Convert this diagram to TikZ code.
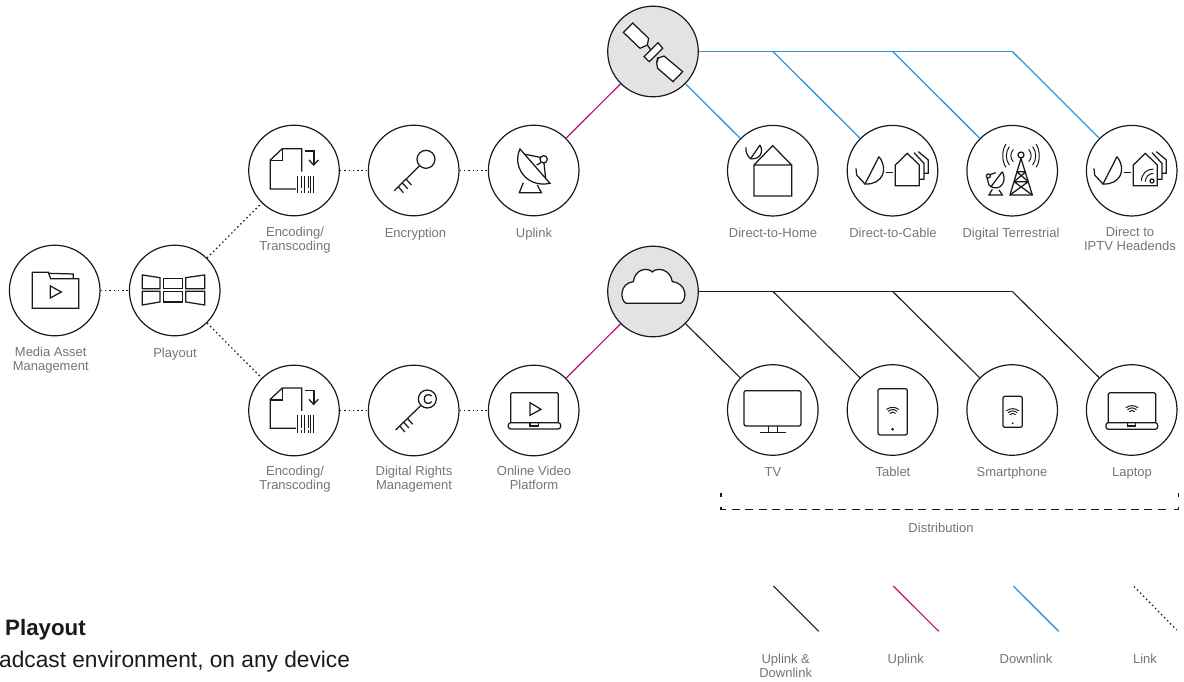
\documentclass[tikz,border=0pt]{standalone}
\usepackage{fontspec}
\setmainfont{Liberation Sans}
\definecolor{pinkline}{HTML}{B8107F}
\definecolor{blueline}{HTML}{2F95DC}
\definecolor{hubgray}{HTML}{E3E3E3}
\definecolor{lblgray}{HTML}{757575}
\definecolor{inkc}{HTML}{1A1A1A}
\tikzset{
  stage/.style={circle,draw=inkc,line width=1.2pt,fill=white,minimum size=90.6pt,inner sep=0pt},
  hub/.style={stage,fill=hubgray},
  lbl/.style={anchor=north,align=center,text=lblgray,inner sep=0pt,font=\fontsize{13}{14}\selectfont,execute at begin node={\rule{0pt}{10pt}}},
  linkdot/.style={draw=inkc,line width=1.2pt,dash pattern=on 1.5pt off 2.8pt},
  bothline/.style={draw=inkc,line width=1.1pt},
  upline/.style={draw=pinkline,line width=1.2pt},
  downline/.style={draw=blueline,line width=1.3pt},
  zf/.style={x=.3333pt,y=-.3333pt,line width=1.25pt,inkc,line join=miter},
}
\newcommand\wifisym[2]{\begin{scope}[shift={(#1,#2)},line width=1pt,line cap=round]
  \draw (-18,-2) .. controls (-7,-10) and (7,-10) .. (18,-2);
  \draw (-13,4) .. controls (-5,-3) and (5,-3) .. (13,4);
  \draw (-8,10) .. controls (-3,5) and (3,5) .. (8,10);
\end{scope}}
\newcommand\encicon{%
  \draw (905,215) -- (905,146) -- (847,146) -- (811,180) -- (811,267) -- (888,267);
  \draw (847,146) -- (847,182) -- (811,182);
  \draw (915,153) -- (942,153) -- (942,194);
  \draw (927,180) -- (941,195) -- (955,180);
  \draw[line width=1pt] (893,228) -- (893,280) (905,228) -- (905,265) (905,272) -- (905,280)
    (914,228) -- (914,280) (925,228) -- (925,265) (925,272) -- (925,280) (932,228) -- (932,280) (941,228) -- (941,280);
}
\newcommand\dishhouse{%
  \draw (438,175) -- (440,195) -- (465,222);
  \draw (507,140) -- (465,222) .. controls (515,225) and (538,180) .. (507,140);
  \draw (527,188) -- (549,188);
  \draw (612,128) -- (642,160) -- (642,208) -- (630,208);
  \draw (625,125) -- (655,150) -- (655,190) -- (642,190);
  \draw[fill=white] (556,165) -- (592,130) -- (628,165) -- (628,227) -- (556,227) -- cycle;
}
\begin{document}
\begin{tikzpicture}[x=1pt,y=-1pt]
\useasboundingbox (0,0) rectangle (1184,682);
% stages
\node[stage] (mam) at (54.7,290.5) {};
\node[stage] (play) at (174.7,290.5) {};
\node[stage] (enca) at (294,170.5) {};
\node[stage] (cryp) at (413.7,170.5) {};
\node[stage] (upl) at (533.7,170.5) {};
\node[hub] (sat) at (653,51.5) {};
\node[stage] (dth) at (772.8,170.7) {};
\node[stage] (dtc) at (892.5,170.7) {};
\node[stage] (dte) at (1012.2,170.7) {};
\node[stage] (ipt) at (1131.7,170.7) {};
\node[stage] (encb) at (294,410.5) {};
\node[stage] (drm) at (413.7,410.5) {};
\node[stage] (ovp) at (533.7,410.5) {};
\node[hub] (cld) at (653,291.5) {};
\node[stage] (tv) at (772.8,410) {};
\node[stage] (tab) at (892.5,410) {};
\node[stage] (smp) at (1012.2,410) {};
\node[stage] (lap) at (1131.7,410) {};
% junctions
\coordinate (sj1) at (773,51.5); \coordinate (sj2) at (892.7,51.5); \coordinate (sj3) at (1012.4,51.5);
\coordinate (cj1) at (773,291.5); \coordinate (cj2) at (892.7,291.5); \coordinate (cj3) at (1012.4,291.5);
% connectors
\draw[linkdot] (mam) -- (play);
\draw[linkdot] (play) -- (enca);
\draw[linkdot] (play) -- (encb);
\draw[linkdot] (enca) -- (cryp);
\draw[linkdot] (cryp) -- (upl);
\draw[linkdot] (encb) -- (drm);
\draw[linkdot] (drm) -- (ovp);
\draw[upline] (upl) -- (sat);
\draw[upline] (ovp) -- (cld);
\draw[downline] (sat) -- (sj3);
\draw[downline] (sat) -- (dth);
\draw[downline] (sj1) -- (dtc);
\draw[downline] (sj2) -- (dte);
\draw[downline] (sj3) -- (ipt);
\draw[bothline] (cld) -- (cj3);
\draw[bothline] (cld) -- (tv);
\draw[bothline] (cj1) -- (tab);
\draw[bothline] (cj2) -- (smp);
\draw[bothline] (cj3) -- (lap);
% labels
\node[lbl] (lmam) at (50.7,347) {Media Asset\\Management};
\node[lbl] (lplay) at (175,347) {Playout};
\node[lbl] (lenca) at (295,227) {Encoding/\\Transcoding};
\node[lbl] (lcryp) at (415.5,227) {Encryption};
\node[lbl] (lupl) at (534,227) {Uplink};
\node[lbl] (ldth) at (773,227) {Direct-to-Home};
\node[lbl] (ldtc) at (893,227) {Direct-to-Cable};
\node[lbl] (ldte) at (1011,227) {Digital Terrestrial};
\node[lbl] (lipt) at (1130,227) {Direct to\\IPTV Headends};
\node[lbl] (lencb) at (295,466) {Encoding/\\Transcoding};
\node[lbl] (ldrm) at (414,466) {Digital Rights\\Management};
\node[lbl] (lovp) at (534,466) {Online Video\\Platform};
\node[lbl] (ltv) at (773,466) {TV};
\node[lbl] (ltab) at (893,466) {Tablet};
\node[lbl] (lsmp) at (1012,466) {Smartphone};
\node[lbl] (llap) at (1132,466) {Laptop};
\node[lbl] (ldis) at (941,522) {Distribution};
% bracket
\coordinate (bla) at (721,493); \coordinate (blb) at (721,496.5);
\coordinate (blc) at (721,506.5); \coordinate (bld) at (726,509.5);
\coordinate (bha) at (732,509.5); \coordinate (bhb) at (1170,509.5);
\coordinate (bra) at (1178.5,493); \coordinate (brb) at (1178.5,496.5);
\coordinate (brc) at (1178.5,506.5); \coordinate (brd) at (1173.5,509.5);
\draw[inkc,line width=1.1pt] (bla) -- (blb);
\draw[inkc,line width=1.1pt] (blc) |- (bld);
\draw[inkc,line width=1.1pt,dash pattern=on 8pt off 5.3pt] (bha) -- (bhb);
\draw[inkc,line width=1.1pt] (brc) |- (brd);
\draw[inkc,line width=1.1pt] (bra) -- (brb);
% legend
\coordinate (k1a) at (773.3,586); \coordinate (k1b) at (818.7,631.3);
\coordinate (k2a) at (893.3,586); \coordinate (k2b) at (938.7,631.3);
\coordinate (k3a) at (1013.3,586); \coordinate (k3b) at (1058.7,631.3);
\coordinate (k4a) at (1134,586.5); \coordinate (k4b) at (1176.7,630);
\draw[bothline] (k1a) -- (k1b);
\draw[upline] (k2a) -- (k2b);
\draw[downline] (k3a) -- (k3b);
\draw[linkdot] (k4a) -- (k4b);
\node[lbl] (lk1) at (785.7,653.5) {Uplink \&\\Downlink};
\node[lbl] (lk2) at (905.7,653.5) {Uplink};
\node[lbl] (lk3) at (1026,653.5) {Downlink};
\node[lbl] (lk4) at (1145,653.5) {Link};
% bottom text
\node[anchor=base west,inner sep=0pt,text=inkc,font=\fontsize{22.3}{24}\bfseries\selectfont] (tta) at (5,635) {Playout};
\node[anchor=base west,inner sep=0pt,text=inkc,font=\fontsize{22.7}{24}\selectfont] (ttb) at (-1,667) {adcast environment, on any device};
% icons, zoom 1
\begin{scope}[shift={(0,100)},zf]
  \draw (97,517) -- (145,517) -- (152,536) -- (236,536) -- (236,625) -- (97,625) -- cycle;
  \draw (145,520) -- (220,522) -- (220,536);
  \draw (151,558) -- (184,576) -- (151,594) -- cycle;
  \draw (427,525) -- (480,533) -- (480,566) -- (427,566) -- cycle;
  \draw (491,535) rectangle (548,566);
  \draw (557,533) -- (614,525) -- (614,566) -- (557,566) -- cycle;
  \draw (427,574) -- (480,574) -- (480,606) -- (427,615) -- cycle;
  \draw (491,574) rectangle (548,606);
  \draw (557,574) -- (614,574) -- (614,615) -- (557,606) -- cycle;
  \encicon
\end{scope}
\begin{scope}[shift={(0,339.3)},zf]
  \encicon
\end{scope}
% icons, zoom 2
\begin{scope}[shift={(340,0)},zf]
  \draw (258,478) circle (27);
  \draw (238,498) -- (163,572);
  \draw (175,560) -- (190,578) (187,549) -- (203,566) (199,538) -- (214,555);
  \draw (540,447) .. controls (515,500) and (560,565) .. (630,550) -- cycle;
  \draw (611,478) circle (11);
  \draw (556,463) -- (600,472) (590,495) -- (603,488) (612,489) -- (617,535);
  \draw (550,548) -- (538,578) -- (604,578) -- (592,555);
\end{scope}
% satellite
\begin{scope}[shift={(590,0)},zf]
  \draw (172,135) -- (182,150) (203,172) -- (200,190);
  \draw[fill=white] (128,69) -- (176,115) -- (172,135) -- (150,145) -- (100,97) -- cycle;
  \draw[fill=white] (204,128) -- (218,145) -- (178,185) -- (162,170) -- cycle;
  \draw[fill=white] (205,174) -- (222,168) -- (278,215) -- (249,245) -- (203,205) -- (200,190) -- cycle;
\end{scope}
% cloud
\begin{scope}[shift={(590,240)},zf]
  \draw[fill=white] (108,190) .. controls (90,180) and (88,130) .. (130,125)
    .. controls (135,85) and (175,82) .. (187,96) .. controls (200,82) and (240,85) .. (247,125)
    .. controls (292,130) and (292,180) .. (272,190) -- cycle;
\end{scope}
% zoom 3
\begin{scope}[shift={(710,110)},zf]
  \draw (132,165) -- (188,107) -- (245,165) -- (245,258) -- (132,258) -- cycle -- (245,165);
  \draw (108,112) .. controls (106,125) and (112,138) .. (122,146);
  \draw (150,105) -- (122,146) .. controls (150,150) and (162,125) .. (150,105);
  \dishhouse
\end{scope}
% zoom 4
\begin{scope}[shift={(950,110)},zf]
  \draw (213,135) circle (9);
  \draw (213,145) -- (180,255) -- (247,255) -- cycle;
  \draw (200,185) -- (228,185) (192,215) -- (235,215) (200,185) -- (235,215) (228,185) -- (192,215) (192,215) -- (247,255) (235,215) -- (180,255);
  \draw[line width=1pt] (190,118) .. controls (180,130) and (180,145) .. (190,155)
     (178,110) .. controls (166,125) and (166,150) .. (178,165)
     (168,102) .. controls (155,120) and (155,155) .. (168,172)
     (236,118) .. controls (246,130) and (246,145) .. (236,155)
     (248,110) .. controls (260,125) and (260,150) .. (248,165)
     (258,102) .. controls (271,120) and (271,155) .. (258,172);
\end{scope}
\begin{scope}[shift={(975,140)},zf]
  \draw (82,95) -- (48,140) .. controls (75,155) and (98,125) .. (82,95);
  \draw (40,108) circle (6);
  \draw (45,104) -- (62,98) (36,114) -- (42,135) -- (48,140);
  \draw (52,148) -- (42,165) -- (82,165) -- (72,150);
\end{scope}
\begin{scope}[shift={(948,110)},zf]
  \dishhouse
  \draw[line width=1pt] (580,213) .. controls (582,190) and (595,178) .. (616,177)
    (592,215) .. controls (594,200) and (600,192) .. (616,190);
  \draw (612,213) circle (6);
\end{scope}
% zoom 5
\begin{scope}[shift={(240,350)},zf]
  \draw (562,147) circle (27);
  \draw (575,138) .. controls (565,128) and (550,138) .. (553,148) .. controls (552,160) and (568,165) .. (575,155);
  \draw (542,167) -- (467,240);
  \draw (479,228) -- (495,246) (491,217) -- (507,234) (503,206) -- (518,223);
  \draw[rounded corners=1.5pt] (812,218) -- (812,128) -- (955,128) -- (955,218);
  \draw[rounded corners=2.5pt] (805,218) -- (962,218) -- (962,237) -- (805,237) -- cycle;
  \draw (870,218) -- (870,228) -- (895,228) -- (895,218);
  \draw (870,158) -- (903,178) -- (870,196) -- cycle;
\end{scope}
% zoom 6
\begin{scope}[shift={(710,350)},zf]
  \draw[rounded corners=2pt] (102,122) rectangle (273,228);
  \draw (175,228) -- (175,247) (203,228) -- (203,247) (150,247) -- (227,247);
  \draw[rounded corners=2pt] (504,116) rectangle (592,255);
  \wifisym{548}{180}
  \fill (548,238) circle (4.5);
  \draw[rounded corners=2pt] (879,139) rectangle (937,232);
  \wifisym{908}{184}
  \fill (908,220) circle (3);
  \draw[rounded corners=1.5pt] (1195,218) -- (1195,128) -- (1337,128) -- (1337,218);
  \draw[rounded corners=2.5pt] (1188,218) -- (1343,218) -- (1343,238) -- (1188,238) -- cycle;
  \draw (1253,218) -- (1253,228) -- (1277,228) -- (1277,218);
  \wifisym{1266}{175}
\end{scope}
\end{tikzpicture}
\end{document}
